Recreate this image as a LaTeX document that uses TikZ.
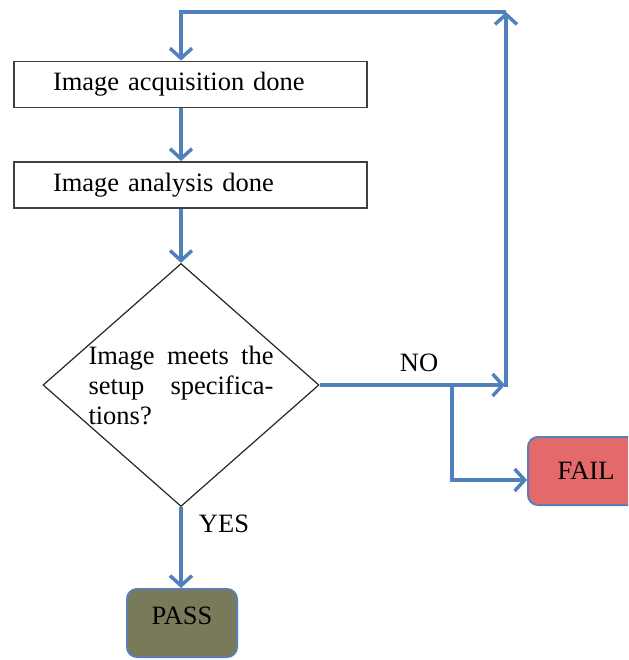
\documentclass[tikz,border=0pt]{standalone}
\usepackage{fontspec}
\setmainfont{Liberation Serif}
\usetikzlibrary{arrows.meta,shapes.geometric}
\definecolor{lineblue}{HTML}{4F81BD}
\definecolor{edgeblue}{HTML}{5B7FB4}
\definecolor{failred}{HTML}{E4696B}
\definecolor{passolive}{HTML}{787A5A}
\begin{document}
\begin{tikzpicture}[x=1pt,y=-1pt,
  font=\fontsize{26.5}{30}\selectfont,
  flow/.style={draw=lineblue, line width=3.5pt, -{Straight Barb[length=10pt,width=22pt]}},
  procbox/.style={draw=black!75, line width=1.8pt, fill=white, minimum width=353pt,
    minimum height=46pt, text width=275pt, inner xsep=39pt, inner ysep=0pt, align=left},
  decision/.style={diamond, draw=black!85, line width=1.2pt, aspect=1.13, inner sep=0pt,
    minimum width=276pt, minimum height=243pt},
  endbox/.style={draw=edgeblue, line width=2pt, rounded corners=10pt, minimum height=68pt}]
\clip (0,0) rectangle (628,660);
\node[procbox] (box1) at (190.5,84.5) {Image acquisition done};
\node[procbox] (box2) at (190.5,185) {Image analysis done};
\node[decision] (dia) at (181,385) {\parbox{185pt}{\makebox[185pt][s]{Image meets the}\\
  \makebox[185pt][s]{setup specifica-}\\tions?}};
\node[endbox, fill=failred, minimum width=116pt] (fail) at (586,471) {FAIL};
\node[endbox, fill=passolive, minimum width=110pt] (pass) at (182,623) {\raisebox{-1pt}[0pt][0pt]{PASS}};
\node (no) at (419,363) {NO};
\node (yes) at (224,524) {YES};
\coordinate (tl) at (181,12);
\coordinate (tr) at (506,12);
\coordinate (up) at (506,387);
\coordinate (nohit) at (505,385);
\coordinate (br) at (452,385);
\coordinate (failin) at (fail.west |- 0,480);
\draw[flow] (box1.south -| tl) -- (box2.north -| tl);
\draw[flow] (box2.south -| tl) -- (dia.north);
\draw[flow] (dia.south) -- (pass.north -| dia.south);
\draw[flow] (dia.east) -- (nohit);
\draw[flow] (up) -- (tr);
\draw[flow] (tr) -- (tl) -- (box1.north -| tl);
\draw[flow] (br) |- (failin);
\end{tikzpicture}
\end{document}
